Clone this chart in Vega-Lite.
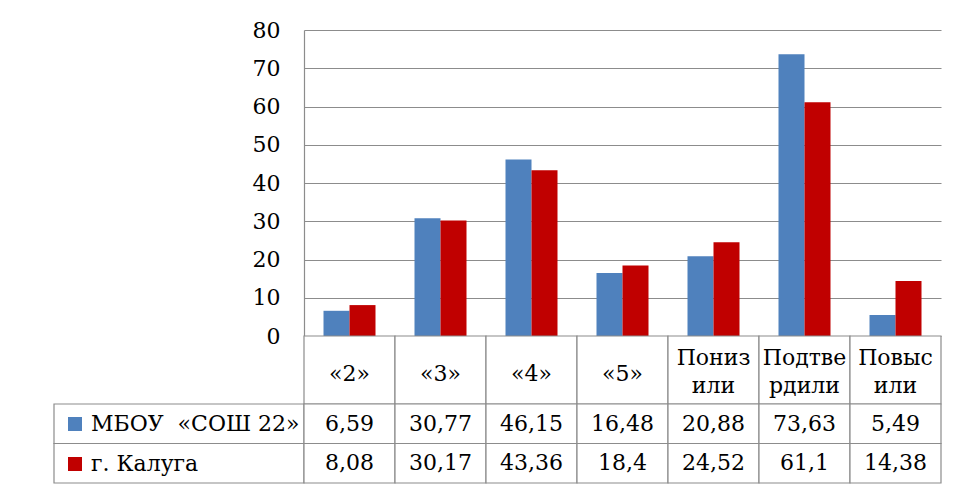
{
  "$schema": "https://vega.github.io/schema/vega-lite/v6.json",
  "background": "white",
  "padding": {"left": 53, "top": 19, "right": 0, "bottom": 0},
  "autosize": {"type": "pad"},
  "config": {
    "font": "DejaVu Serif",
    "view": {"stroke": null},
    "locale": {"number": {"decimal": ",", "thousands": " ", "grouping": [3], "currency": ["", " ₽"]}}
  },
  "datasets": {
    "cats": [
      {"cat": "«2»", "label1": "«2»"},
      {"cat": "«3»", "label1": "«3»"},
      {"cat": "«4»", "label1": "«4»"},
      {"cat": "«5»", "label1": "«5»"},
      {"cat": "Понизили", "label1": "Пониз", "label2": "или"},
      {"cat": "Подтвердили", "label1": "Подтве", "label2": "рдили"},
      {"cat": "Повысили", "label1": "Повыс", "label2": "или"}
    ],
    "series": [
      {"series": "МБОУ\u00a0 «СОШ 22»"},
      {"series": "г. Калуга"}
    ],
    "vals": [
      {"cat": "«2»", "series": "МБОУ\u00a0 «СОШ 22»", "value": 6.59},
      {"cat": "«3»", "series": "МБОУ\u00a0 «СОШ 22»", "value": 30.77},
      {"cat": "«4»", "series": "МБОУ\u00a0 «СОШ 22»", "value": 46.15},
      {"cat": "«5»", "series": "МБОУ\u00a0 «СОШ 22»", "value": 16.48},
      {"cat": "Понизили", "series": "МБОУ\u00a0 «СОШ 22»", "value": 20.88},
      {"cat": "Подтвердили", "series": "МБОУ\u00a0 «СОШ 22»", "value": 73.63},
      {"cat": "Повысили", "series": "МБОУ\u00a0 «СОШ 22»", "value": 5.49},
      {"cat": "«2»", "series": "г. Калуга", "value": 8.08},
      {"cat": "«3»", "series": "г. Калуга", "value": 30.17},
      {"cat": "«4»", "series": "г. Калуга", "value": 43.36},
      {"cat": "«5»", "series": "г. Калуга", "value": 18.4},
      {"cat": "Понизили", "series": "г. Калуга", "value": 24.52},
      {"cat": "Подтвердили", "series": "г. Калуга", "value": 61.1},
      {"cat": "Повысили", "series": "г. Калуга", "value": 14.38}
    ]
  },
  "columns": 2,
  "spacing": 0,
  "bounds": "flush",
  "resolve": {
    "scale": {"x": "independent", "y": "independent", "color": "independent"},
    "legend": {"color": "independent"}
  },
  "concat": [
    {
      "width": 250, "height": 306,
      "data": {"values": [{}]},
      "mark": {"type": "rect", "opacity": 0},
      "encoding": {}
    },
    {
      "width": 637, "height": 306,
      "data": {"name": "vals"},
      "mark": {"type": "bar"},
      "encoding": {
        "x": {"field": "cat", "type": "nominal", "sort": ["«2»", "«3»", "«4»", "«5»", "Понизили", "Подтвердили", "Повысили"], "scale": {"paddingInner": 0, "paddingOuter": 0}, "axis": null},
        "xOffset": {"field": "series", "type": "nominal", "sort": ["МБОУ\u00a0 «СОШ 22»", "г. Калуга"], "scale": {"paddingInner": 0, "paddingOuter": 0.75}},
        "y": {
          "field": "value", "type": "quantitative",
          "scale": {"domain": [0, 80], "nice": false},
          "axis": {
            "title": null, "values": [0, 10, 20, 30, 40, 50, 60, 70, 80],
            "grid": true, "gridColor": "#8c8c8c", "gridWidth": 1.2,
            "domain": true, "domainColor": "#8c8c8c", "domainWidth": 1.2,
            "ticks": false, "labelPadding": 24,
            "labelFont": "DejaVu Serif", "labelFontSize": 22, "labelColor": "black"
          }
        },
        "color": {"field": "series", "type": "nominal", "sort": ["МБОУ\u00a0 «СОШ 22»", "г. Калуга"], "scale": {"range": ["#4F81BD", "#C00000"]}, "legend": null}
      }
    },
    {
      "width": 250, "height": 68,
      "data": {"values": [{}]},
      "mark": {"type": "rect", "opacity": 0},
      "encoding": {}
    },
    {
      "width": 637, "height": 68,
      "data": {"name": "cats"},
      "encoding": {
        "x": {"field": "cat", "type": "nominal", "sort": ["«2»", "«3»", "«4»", "«5»", "Понизили", "Подтвердили", "Повысили"], "scale": {"paddingInner": 0, "paddingOuter": 0}, "axis": null}
      },
      "layer": [
        {
          "mark": {"type": "rect", "fill": "white", "stroke": "#8c8c8c", "strokeWidth": 1.2}
        },
        {
          "transform": [{"filter": "!isValid(datum.label2)"}],
          "mark": {"type": "text", "font": "DejaVu Serif", "fontSize": 22, "baseline": "middle", "dy": 4, "color": "black"},
          "encoding": {"text": {"field": "label1", "type": "nominal"}}
        },
        {
          "transform": [{"filter": "isValid(datum.label2)"}],
          "mark": {"type": "text", "font": "DejaVu Serif", "fontSize": 22, "baseline": "middle", "dy": -12, "color": "black"},
          "encoding": {"text": {"field": "label1", "type": "nominal"}}
        },
        {
          "transform": [{"filter": "isValid(datum.label2)"}],
          "mark": {"type": "text", "font": "DejaVu Serif", "fontSize": 22, "baseline": "middle", "dy": 16, "color": "black"},
          "encoding": {"text": {"field": "label2", "type": "nominal"}}
        }
      ]
    },
    {
      "width": 250, "height": 79,
      "data": {"name": "series"},
      "layer": [
        {
          "mark": {"type": "rect", "fill": "white", "stroke": "#8c8c8c", "strokeWidth": 1.2},
          "encoding": {
            "y": {"field": "series", "type": "nominal", "sort": ["МБОУ\u00a0 «СОШ 22»", "г. Калуга"], "scale": {"paddingInner": 0, "paddingOuter": 0}, "axis": null}
          }
        },
        {
          "mark": {"type": "square", "filled": true, "opacity": 0},
          "encoding": {
            "y": {"field": "series", "type": "nominal", "sort": ["МБОУ\u00a0 «СОШ 22»", "г. Калуга"], "scale": {"paddingInner": 0, "paddingOuter": 0}, "axis": null},
            "color": {
              "field": "series", "type": "nominal", "sort": ["МБОУ\u00a0 «СОШ 22»", "г. Калуга"],
              "scale": {"range": ["#4F81BD", "#C00000"]},
              "legend": {
                "orient": "none", "legendX": 10, "legendY": 9, "title": null, "padding": 0,
                "symbolType": "square", "symbolSize": 196, "symbolStrokeWidth": 0, "symbolOpacity": 1,
                "labelFont": "DejaVu Serif", "labelFontSize": 22, "labelColor": "black", "labelOffset": 5,
                "labelLimit": 0, "rowPadding": 18
              }
            }
          }
        }
      ]
    },
    {
      "width": 637, "height": 79,
      "data": {"name": "vals"},
      "encoding": {
        "x": {"field": "cat", "type": "nominal", "sort": ["«2»", "«3»", "«4»", "«5»", "Понизили", "Подтвердили", "Повысили"], "scale": {"paddingInner": 0, "paddingOuter": 0}, "axis": null},
        "y": {"field": "series", "type": "nominal", "sort": ["МБОУ\u00a0 «СОШ 22»", "г. Калуга"], "scale": {"paddingInner": 0, "paddingOuter": 0}, "axis": null}
      },
      "layer": [
        {
          "mark": {"type": "rect", "fill": "white", "stroke": "#8c8c8c", "strokeWidth": 1.2}
        },
        {
          "mark": {"type": "text", "font": "DejaVu Serif", "fontSize": 22, "baseline": "middle", "color": "black"},
          "encoding": {
            "text": {"field": "value", "type": "quantitative", "format": ".2~f"}
          }
        }
      ]
    }
  ]
}
